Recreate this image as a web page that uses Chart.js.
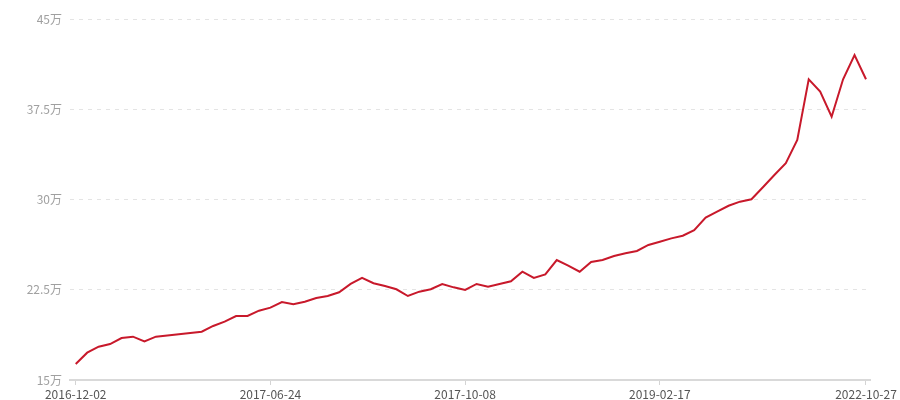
<!DOCTYPE html>
<html>
<head>
<meta charset="utf-8">
<script src="https://cdn.jsdelivr.net/npm/chart.js@4/dist/chart.umd.min.js"></script>
<style>
    html, body { margin: 0; padding: 0; background: #fff; }
    #wrap { width: 900px; height: 400px; position: relative; }
</style>
</head>
<body>
<div id="wrap"><canvas id="line-chart"></canvas></div>
<script>
// Nilai per titik (satuan: 万)
const values = [
    16.33, 17.27, 17.77, 17.99, 18.49, 18.6, 18.21, 18.6, 18.7, 18.8,
    18.9, 19.01, 19.49, 19.85, 20.32, 20.32, 20.76, 21.01, 21.48, 21.29,
    21.51, 21.81, 21.98, 22.29, 22.98, 23.48, 23.04, 22.81, 22.54, 21.98,
    22.34, 22.54, 22.98, 22.7, 22.48, 22.98, 22.75, 22.98, 23.2, 24.0,
    23.48, 23.78, 24.97, 24.5, 24.0, 24.81, 24.97, 25.3, 25.53, 25.72,
    26.22, 26.49, 26.77, 26.99, 27.46, 28.49, 28.99, 29.48, 29.82, 30.02,
    31.02, 32.04, 33.01, 34.94, 39.99, 38.96, 36.88, 39.99, 42.0, 39.99
];

// Label tanggal yang tampil di sumbu x, dan posisi indeksnya
const dateLabels = ['2016-12-02', '2017-06-24', '2017-10-08', '2019-02-17', '2022-10-27'];
const dateIndex = [0, 17, 34, 51, 69];

// Tick sumbu y
const yTicks = [15, 22.5, 30, 37.5, 45];

const points = values.map((v, i) => ({ x: i, y: v }));

const fontFamily = '"Noto Sans CJK SC", "Noto Sans", sans-serif';

var ctxLine = document.getElementById('line-chart');

var lineChart = new Chart(ctxLine, {
    type: 'line',
    data: {
        datasets: [{
            data: points,
            borderColor: '#c8192b',
            borderWidth: 2,
            pointRadius: 0,
            tension: 0,
            fill: false
        }]
    },
    options: {
        responsive: true,
        maintainAspectRatio: false,
        animation: false,
        layout: {
            padding: { top: 19, right: 30, bottom: 0, left: 0 }
        },
        plugins: {
            legend: { display: false },
            tooltip: { enabled: false }
        },
        scales: {
            x: {
                type: 'linear',
                min: -0.5,
                max: 69.35,
                afterBuildTicks: (scale) => {
                    scale.ticks = dateIndex.map(i => ({ value: i }));
                },
                afterFit: (scale) => {
                    scale.height = 20;
                },
                ticks: {
                    autoSkip: false,
                    maxRotation: 0,
                    padding: 2,
                    color: '#555',
                    font: { family: fontFamily, size: 12 },
                    callback: (value) => {
                        const k = dateIndex.indexOf(value);
                        return k >= 0 ? dateLabels[k] : '';
                    }
                },
                grid: {
                    drawOnChartArea: false,
                    drawTicks: true,
                    tickLength: 5,
                    color: '#d4d4d4'
                },
                border: {
                    display: true,
                    color: '#d9d9d9',
                    width: 2
                }
            },
            y: {
                min: 15,
                max: 45,
                afterBuildTicks: (scale) => {
                    scale.ticks = yTicks.map(v => ({ value: v }));
                },
                afterFit: (scale) => {
                    scale.width = 70;
                },
                ticks: {
                    padding: 8,
                    color: '#a0a0a0',
                    font: { family: fontFamily, size: 12 },
                    callback: (value) => value + '万'
                },
                grid: {
                    drawTicks: false,
                    color: '#e4e4e4',
                    lineWidth: 1
                },
                border: {
                    display: false,
                    dash: [4, 5]
                }
            }
        }
    }
});
</script>
</body>
</html>
